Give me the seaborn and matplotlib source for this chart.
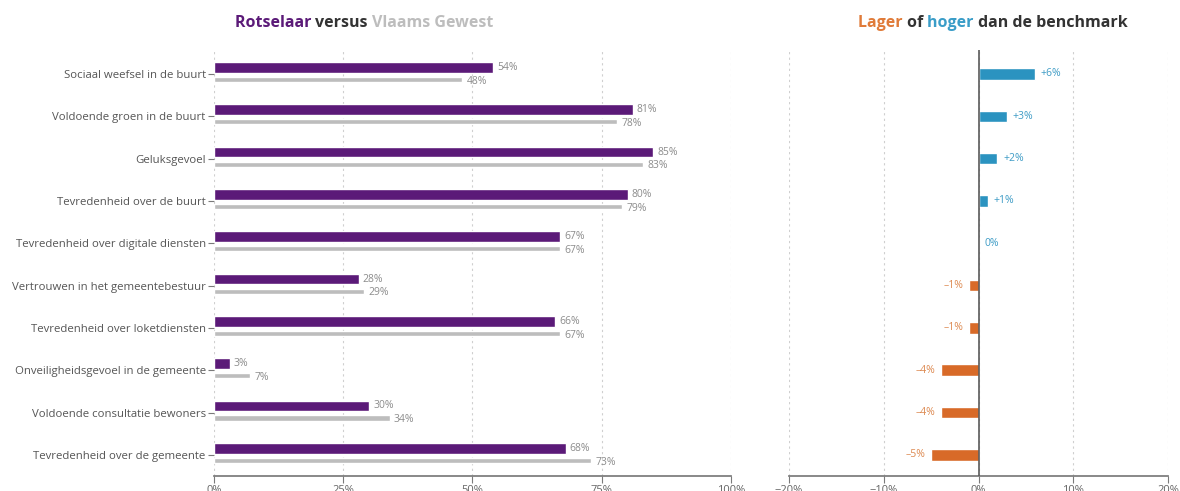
import numpy as np
import pandas as pd
import seaborn as sns
import matplotlib
matplotlib.use("Agg")
import matplotlib.pyplot as plt

# --- data -------------------------------------------------------------
categories = [
    "Sociaal weefsel in de buurt",
    "Voldoende groen in de buurt",
    "Geluksgevoel",
    "Tevredenheid over de buurt",
    "Tevredenheid over digitale diensten",
    "Vertrouwen in het gemeentebestuur",
    "Tevredenheid over loketdiensten",
    "Onveiligheidsgevoel in de gemeente",
    "Voldoende consultatie bewoners",
    "Tevredenheid over de gemeente",
]
rotselaar = [54, 81, 85, 80, 67, 28, 66, 3, 30, 68]
vlaams_gewest = [48, 78, 83, 79, 67, 29, 67, 7, 34, 73]
verschil = [6, 3, 2, 1, 0, -1, -1, -4, -4, -5]

left_ticks = [0, 25, 50, 75, 100]
right_ticks = [-20, -10, 0, 10, 20]

# --- colours ----------------------------------------------------------
PURPLE = "#5b1a78"
GREY = "#bdbdbd"
BLUE = "#2b93c0"
ORANGE = "#d86a28"
BLUE_TXT = "#3e9cc6"
ORANGE_TXT = "#dd8a52"
TXT = "#555555"
VAL = "#8c8c8c"
AXIS = "#7a7a7a"

sns.set_theme(style="white")
plt.rcParams["font.family"] = ["Open Sans", "DejaVu Sans"]

W, H = 1180, 491
fig = plt.figure(figsize=(W / 100, H / 100), dpi=100)
ax1 = fig.add_axes([214 / W, 15 / H, 517 / W, 426 / H])
ax2 = fig.add_axes([789 / W, 15 / H, 379 / W, 426 / H])

df = pd.DataFrame({
    "item": categories,
    "Rotselaar": rotselaar,
    "Vlaams Gewest": vlaams_gewest,
    "verschil": verschil,
})
df["richting"] = np.where(df["verschil"] >= 0, "hoger", "lager")

# --- left panel: Rotselaar vs Vlaams Gewest ---------------------------
P_OFF, G_OFF = -0.155, 0.13
sns.barplot(data=df, x="Rotselaar", y="item", orient="h", color=PURPLE,
            saturation=1, width=0.25, ax=ax1, zorder=3)
n_first = len(ax1.patches)
for p in ax1.patches:
    p.set_y(p.get_y() + P_OFF)
sns.barplot(data=df, x="Vlaams Gewest", y="item", orient="h", color=GREY,
            saturation=1, width=0.12, ax=ax1, zorder=3)
for p in ax1.patches[n_first:]:
    p.set_y(p.get_y() + G_OFF)

for i, (a, b) in enumerate(zip(rotselaar, vlaams_gewest)):
    ax1.annotate(f"{a}%", (a, i + P_OFF), xytext=(3, 0), textcoords="offset points",
                 ha="left", va="center", fontsize=7.5, color=VAL)
    ax1.annotate(f"{b}%", (b, i + G_OFF + 0.04), xytext=(3, 0), textcoords="offset points",
                 ha="left", va="center", fontsize=7.5, color=VAL)

ax1.set_xlim(0, 100)
ax1.set_xticks(left_ticks)
ax1.set_xticklabels([f"{t}%" for t in left_ticks])
ax1.set_ylim(9.5, -0.567)
ax1.set_xlabel("")
ax1.set_ylabel("")
ax1.grid(axis="x", linestyle=(0, (2, 3)), color="#cfcfcf", linewidth=0.8, zorder=0)
ax1.grid(axis="y", visible=False)
for s in ["top", "right", "left"]:
    ax1.spines[s].set_visible(False)
ax1.spines["bottom"].set_color(AXIS)
ax1.tick_params(axis="x", direction="out", length=5, width=0.8, color=AXIS,
                labelsize=8, labelcolor="#666666", pad=1.5, bottom=True)
ax1.tick_params(axis="y", direction="out", length=4, width=0.8, color=AXIS,
                labelsize=8.2, labelcolor=TXT, pad=2, left=True)

# --- right panel: difference with the benchmark -----------------------
sns.barplot(data=df, x="verschil", y="item", orient="h", hue="richting",
            palette={"hoger": BLUE, "lager": ORANGE}, dodge=False, legend=False,
            saturation=1, width=0.27, ax=ax2, zorder=3)
for i, v in enumerate(verschil):
    sign = "+" if v > 0 else ("–" if v < 0 else "")
    txt = f"{sign}{abs(v)}%"
    if v >= 0:
        ax2.annotate(txt, (v, i), xytext=(4, 0), textcoords="offset points",
                     ha="left", va="center", fontsize=7.5, color=BLUE_TXT)
    else:
        ax2.annotate(txt, (v, i), xytext=(-4, 0), textcoords="offset points",
                     ha="right", va="center", fontsize=7.5, color=ORANGE_TXT)

ax2.axvline(0, color="#5a5a5a", linewidth=1.2, zorder=4)
ax2.set_xlim(-20, 20)
ax2.set_xticks(right_ticks)
ax2.set_xticklabels([("−" if t < 0 else "") + f"{abs(t)}%" for t in right_ticks])
ax2.set_ylim(9.5, -0.567)
ax2.set_xlabel("")
ax2.set_ylabel("")
ax2.set_yticks([])
ax2.grid(axis="x", linestyle=(0, (2, 3)), color="#cfcfcf", linewidth=0.8, zorder=0)
ax2.grid(axis="y", visible=False)
for s in ["top", "right", "left"]:
    ax2.spines[s].set_visible(False)
ax2.spines["bottom"].set_color(AXIS)
ax2.tick_params(axis="x", direction="out", length=5, width=0.8, color=AXIS,
                labelsize=8, labelcolor="#666666", pad=1.5, bottom=True)


# --- multi-coloured titles --------------------------------------------
def coloured_title(parts, x_center_px, y_px, **kw):
    renderer = fig.canvas.get_renderer()
    items = []
    total = 0.0
    for s, c in parts:
        t = fig.text(0, 1 - y_px / H, s, color=c, va="center", ha="left", **kw)
        w = t.get_window_extent(renderer).width
        items.append((t, w))
        total += w
    x = x_center_px - total / 2
    for t, w in items:
        t.set_x(x / W)
        x += w


fig.canvas.draw()
coloured_title([("Rotselaar ", PURPLE), ("versus ", "#333333"), ("Vlaams Gewest", "#bdbdbd")],
               364, 23, fontsize=11.5, fontweight="bold")
coloured_title([("Lager ", "#e07b39"), ("of ", "#333333"), ("hoger ", "#3a9dc8"),
                ("dan de benchmark", "#333333")],
               993, 23, fontsize=11.5, fontweight="bold")

fig.savefig("out.png", dpi=100)
